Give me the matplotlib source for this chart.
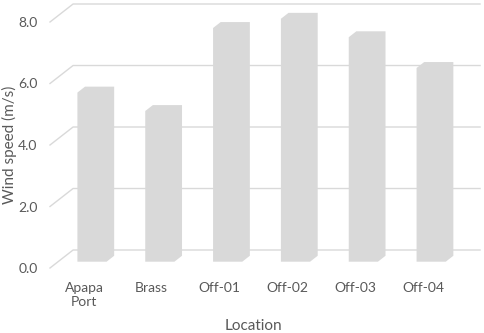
import matplotlib
matplotlib.use("Agg")
import matplotlib.pyplot as plt

# data
locations = ["Apapa\nPort", "Brass", "Off-01", "Off-02", "Off-03", "Off-04"]
wind_speed = [5.5, 4.9, 7.6, 7.9, 7.3, 6.3]
y_ticks = [0.0, 2.0, 4.0, 6.0, 8.0]

plt.rcParams['font.family'] = ['Lato', 'DejaVu Sans']

fig = plt.figure(figsize=(4.84, 3.33), dpi=100)
ax = fig.add_axes([50 / 484, 65 / 333, 407 / 484, 246 / 333])
ax.set_xlim(-0.5, len(locations) - 0.5)
ax.set_ylim(0, 8)

# oblique depth of the 3d floor in data units
DX, DY = 0.34, 0.585
d0, dd = 0.35, 0.33   # where the columns sit in depth, and their depth
half_w = 0.215
grid_col = '#d9d9d9'
bar_col = '#d9d9d9'
text_col = '#595959'

# gridlines: slanted side wall + back wall
x_left, x_right = ax.get_xlim()
for v in y_ticks:
    ax.plot([x_left, x_left + DX, x_right + DX], [v, v + DY, v + DY],
            color=grid_col, lw=1.0, clip_on=False, zorder=1)

# columns: outline of front + top + side faces (all one colour)
xs = list(range(len(locations)))
for x, h in zip(xs, wind_speed):
    x0, x1 = x + d0 * DX - half_w, x + d0 * DX + half_w
    yb, yt = d0 * DY, h + d0 * DY
    ox, oy = dd * DX, dd * DY
    ax.fill([x0, x0, x0 + ox, x1 + ox, x1 + ox, x1],
            [yb, yt, yt + oy, yt + oy, yb + oy, yb],
            color=bar_col, lw=0, zorder=2, clip_on=False)

ax.set_xticks(xs, labels=locations)
ax.set_yticks(y_ticks, labels=[f"{v:.1f}" for v in y_ticks])
ax.tick_params(length=0, labelsize=10, labelcolor=text_col)
ax.tick_params(axis='x', pad=10)
ax.tick_params(axis='y', pad=9)
for s in ax.spines.values():
    s.set_visible(False)
ax.patch.set_alpha(0)

ax.set_ylabel("Wind speed (m/s)", fontsize=11, color=text_col)
ax.set_xlabel("Location", fontsize=11, color=text_col)
ax.yaxis.set_label_coords(-0.082, 0.5)
ax.xaxis.set_label_coords(0.501, -0.208)

fig.savefig("out.png", dpi=100)
